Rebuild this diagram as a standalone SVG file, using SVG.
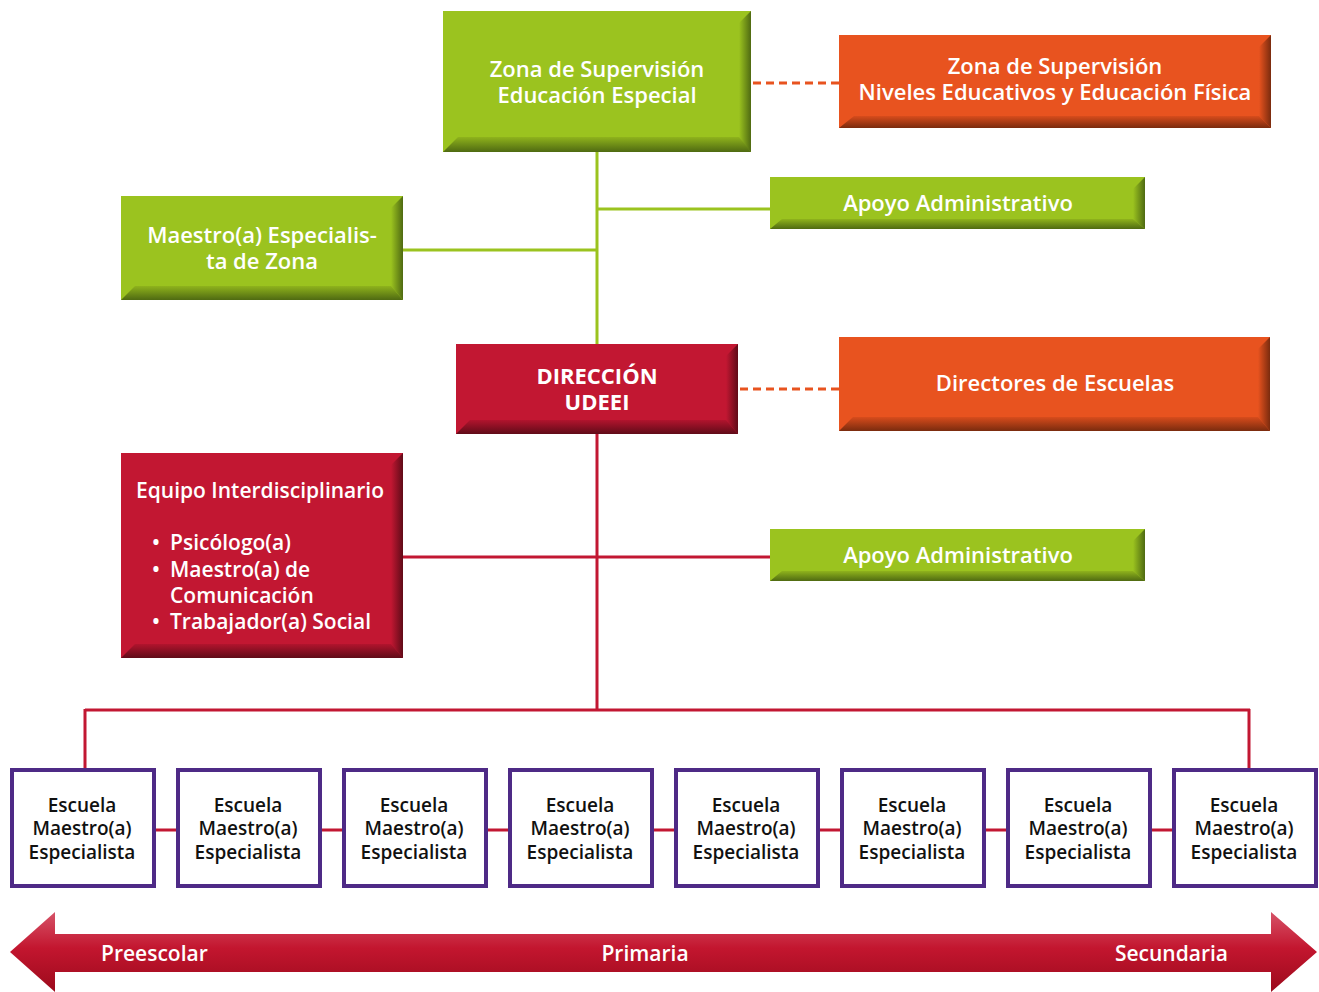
<svg xmlns="http://www.w3.org/2000/svg" width="1319" height="992" viewBox="0 0 1319 992">
<style>
.t{font-family:"Open Sans","Noto Sans","DejaVu Sans",sans-serif;fill:#fff;text-anchor:middle;font-size:22px;font-weight:600}
.m{font-size:21px}
.b{font-weight:bold}
.s{font-family:"Open Sans","Noto Sans","DejaVu Sans",sans-serif;fill:#111;text-anchor:middle;font-size:19px;font-weight:600}
.g{fill:#9bc31f}.o{fill:#e8531f}.r{fill:#c21732}
.sch{fill:#fff;stroke:#4e2a86;stroke-width:4}
.lg{stroke:#9bc31f;stroke-width:3;fill:none}
.lr{stroke:#c21732;stroke-width:3;fill:none}
.ld{stroke:#e8531f;stroke-width:3;fill:none;stroke-dasharray:8 5}
</style>
<defs>
<linearGradient id="gR" x1="0" y1="0" x2="1" y2="0"><stop offset="0" stop-color="#9bc31f"/><stop offset="1" stop-color="#4f6a12"/></linearGradient>
<linearGradient id="gB" x1="0" y1="0" x2="0" y2="1"><stop offset="0" stop-color="#8fb31c"/><stop offset="1" stop-color="#4f6a12"/></linearGradient>
<linearGradient id="oR" x1="0" y1="0" x2="1" y2="0"><stop offset="0" stop-color="#e8531f"/><stop offset="1" stop-color="#7a2b0e"/></linearGradient>
<linearGradient id="oB" x1="0" y1="0" x2="0" y2="1"><stop offset="0" stop-color="#d84c1c"/><stop offset="1" stop-color="#7a2b0e"/></linearGradient>
<linearGradient id="rR" x1="0" y1="0" x2="1" y2="0"><stop offset="0" stop-color="#c21732"/><stop offset="1" stop-color="#600b18"/></linearGradient>
<linearGradient id="rB" x1="0" y1="0" x2="0" y2="1"><stop offset="0" stop-color="#b1142d"/><stop offset="1" stop-color="#600b18"/></linearGradient>
<linearGradient id="arr" x1="0" y1="0" x2="0" y2="1"><stop offset="0" stop-color="#d65368"/><stop offset="0.45" stop-color="#c3162f"/><stop offset="1" stop-color="#9c0a1c"/></linearGradient>
</defs>

<g id="connectors">
<path class="lg" d="M597 152V344M597 209H770M403 250H597"/>
<path class="lr" d="M597 434V710M403 557H770M85 710H1250M85 709V768M1249 709V768"/>
<path class="lr" d="M155 830H176M321 830H342M487 830H508M653 830H674M819 830H840M985 830H1006M1151 830H1172"/>
<path class="ld" d="M753 83H839M740 389H839"/>
</g>

<g id="zona-ee">
<rect class="g" x="443" y="11" width="308" height="141"/>
<polygon fill="url(#gR)" points="739,23 751,11 751,152 739,140"/>
<polygon fill="url(#gB)" points="443,152 458,137 739,137 751,152"/>
<text class="t" x="597" y="77">Zona de Supervisión</text>
<text class="t" x="597" y="103">Educación Especial</text>
</g>

<g id="zona-ne">
<rect class="o" x="839" y="35" width="432" height="93"/>
<polygon fill="url(#oR)" points="1259,47 1271,35 1271,128 1259,116"/>
<polygon fill="url(#oB)" points="839,128 854,116 1259,116 1271,128"/>
<text class="t" x="1055" y="74">Zona de Supervisión</text>
<text class="t" x="1055" y="100">Niveles Educativos y Educación Física</text>
</g>

<g id="apoyo1">
<rect class="g" x="770" y="177" width="375" height="52"/>
<polygon fill="url(#gR)" points="1133,189 1145,177 1145,229 1133,219"/>
<polygon fill="url(#gB)" points="770,229 782,219 1133,219 1145,229"/>
<text class="t" x="958" y="211">Apoyo Administrativo</text>
</g>

<g id="maestro-zona">
<rect class="g" x="121" y="196" width="282" height="104"/>
<polygon fill="url(#gR)" points="391,208 403,196 403,300 391,286"/>
<polygon fill="url(#gB)" points="121,300 135,286 391,286 403,300"/>
<text class="t" x="262" y="243">Maestro(a) Especialis-</text>
<text class="t" x="262" y="269">ta de Zona</text>
</g>

<g id="direccion">
<rect class="r" x="456" y="344" width="282" height="90"/>
<polygon fill="url(#rR)" points="726,356 738,344 738,434 726,420"/>
<polygon fill="url(#rB)" points="456,434 470,420 726,420 738,434"/>
<text class="t b" x="597" y="384">DIRECCIÓN</text>
<text class="t b" x="597" y="410">UDEEI</text>
</g>

<g id="directores">
<rect class="o" x="839" y="337" width="431" height="94"/>
<polygon fill="url(#oR)" points="1258,349 1270,337 1270,431 1258,417"/>
<polygon fill="url(#oB)" points="839,431 853,417 1258,417 1270,431"/>
<text class="t" x="1055" y="391">Directores de Escuelas</text>
</g>

<g id="equipo">
<rect class="r" x="121" y="453" width="282" height="205"/>
<polygon fill="url(#rR)" points="391,465 403,453 403,658 391,644"/>
<polygon fill="url(#rB)" points="121,658 135,644 391,644 403,658"/>
<text class="t m" x="136" y="498" style="text-anchor:start">Equipo Interdisciplinario</text>
<text class="t m" style="text-anchor:start"><tspan x="152" y="550">•</tspan><tspan x="170" y="550">Psicólogo(a)</tspan><tspan x="152" y="577">•</tspan><tspan x="170" y="577">Maestro(a) de</tspan><tspan x="170" y="603">Comunicación</tspan><tspan x="152" y="629">•</tspan><tspan x="170" y="629">Trabajador(a) Social</tspan></text>
</g>

<g id="apoyo2">
<rect class="g" x="770" y="529" width="375" height="52"/>
<polygon fill="url(#gR)" points="1133,541 1145,529 1145,581 1133,571"/>
<polygon fill="url(#gB)" points="770,581 782,571 1133,571 1145,581"/>
<text class="t" x="958" y="563">Apoyo Administrativo</text>
</g>

<g id="escuela1"><rect class="sch" x="12" y="770" width="142" height="116"/><text class="s"><tspan x="82" y="812">Escuela</tspan><tspan x="82" y="835">Maestro(a)</tspan><tspan x="82" y="859">Especialista</tspan></text></g>
<g id="escuela2"><rect class="sch" x="178" y="770" width="142" height="116"/><text class="s"><tspan x="248" y="812">Escuela</tspan><tspan x="248" y="835">Maestro(a)</tspan><tspan x="248" y="859">Especialista</tspan></text></g>
<g id="escuela3"><rect class="sch" x="344" y="770" width="142" height="116"/><text class="s"><tspan x="414" y="812">Escuela</tspan><tspan x="414" y="835">Maestro(a)</tspan><tspan x="414" y="859">Especialista</tspan></text></g>
<g id="escuela4"><rect class="sch" x="510" y="770" width="142" height="116"/><text class="s"><tspan x="580" y="812">Escuela</tspan><tspan x="580" y="835">Maestro(a)</tspan><tspan x="580" y="859">Especialista</tspan></text></g>
<g id="escuela5"><rect class="sch" x="676" y="770" width="142" height="116"/><text class="s"><tspan x="746" y="812">Escuela</tspan><tspan x="746" y="835">Maestro(a)</tspan><tspan x="746" y="859">Especialista</tspan></text></g>
<g id="escuela6"><rect class="sch" x="842" y="770" width="142" height="116"/><text class="s"><tspan x="912" y="812">Escuela</tspan><tspan x="912" y="835">Maestro(a)</tspan><tspan x="912" y="859">Especialista</tspan></text></g>
<g id="escuela7"><rect class="sch" x="1008" y="770" width="142" height="116"/><text class="s"><tspan x="1078" y="812">Escuela</tspan><tspan x="1078" y="835">Maestro(a)</tspan><tspan x="1078" y="859">Especialista</tspan></text></g>
<g id="escuela8"><rect class="sch" x="1174" y="770" width="142" height="116"/><text class="s"><tspan x="1244" y="812">Escuela</tspan><tspan x="1244" y="835">Maestro(a)</tspan><tspan x="1244" y="859">Especialista</tspan></text></g>

<g id="niveles">
<polygon fill="url(#arr)" points="10,952 55,912 55,934 1271,934 1271,912 1317,952 1271,992 1271,972 55,972 55,992"/>
<text class="t m" x="101" y="961" style="text-anchor:start">Preescolar</text>
<text class="t m" x="645" y="961">Primaria</text>
<text class="t m" x="1228" y="961" style="text-anchor:end">Secundaria</text>
</g>
</svg>
